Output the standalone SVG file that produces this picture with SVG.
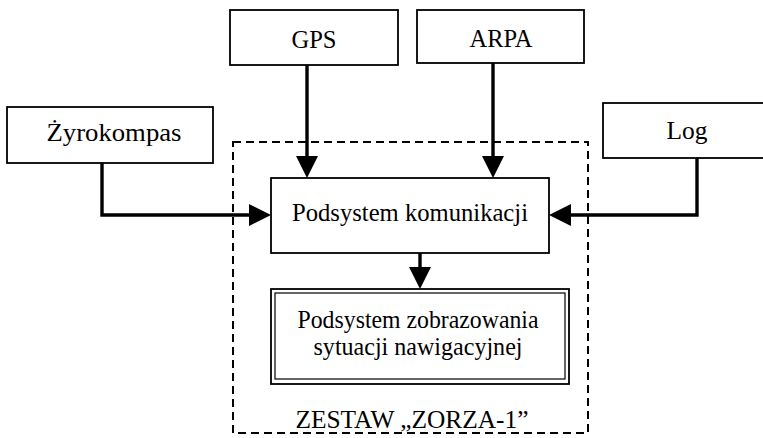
<svg xmlns="http://www.w3.org/2000/svg" width="763" height="438" viewBox="0 0 763 438">
<style>
.box{fill:#fff;stroke:#000;stroke-width:1.8}
.thin{fill:none;stroke:#000;stroke-width:1.2}
.dash{fill:none;stroke:#000;stroke-width:2;stroke-dasharray:8 5}
.con{fill:none;stroke:#000;stroke-width:3.4}
.t{fill:#000;text-anchor:middle}
</style>
<defs>
<marker id="ah" viewBox="0 0 22 22" refX="11" refY="11" markerWidth="22" markerHeight="22" markerUnits="userSpaceOnUse" orient="auto">
<path d="M0,0 L22,11 L0,22 z" fill="#000"/>
</marker>
</defs>
<rect class="dash" x="233" y="142" width="355" height="291"/>
<g font-family="Liberation Serif, Times New Roman, serif" font-size="26">
<g id="gps"><rect class="box" x="230" y="10" width="168" height="55"/><text class="t" x="314" y="48" textLength="45" lengthAdjust="spacingAndGlyphs">GPS</text></g>
<g id="arpa"><rect class="box" x="417" y="10" width="167" height="53"/><text class="t" x="501" y="47" textLength="63" lengthAdjust="spacingAndGlyphs">ARPA</text></g>
<g id="zyrokompas"><rect class="box" x="7" y="107" width="206" height="56"/><text class="t" x="114" y="141" textLength="135" lengthAdjust="spacingAndGlyphs">Żyrokompas</text></g>
<g id="log"><rect class="box" x="603" y="103" width="165" height="55"/><text class="t" x="687" y="139" textLength="41" lengthAdjust="spacingAndGlyphs">Log</text></g>
<g id="komunikacja"><rect class="box" x="271" y="178" width="278" height="75"/><text class="t" x="410" y="221" textLength="236" lengthAdjust="spacingAndGlyphs">Podsystem komunikacji</text></g>
<g id="zobrazowanie"><rect class="box" x="271" y="289" width="298" height="95"/><rect class="thin" x="275" y="293" width="290" height="86"/><text class="t" x="418" y="328" textLength="241" lengthAdjust="spacingAndGlyphs">Podsystem zobrazowania</text><text class="t" x="418" y="355" textLength="209" lengthAdjust="spacingAndGlyphs">sytuacji nawigacyjnej</text></g>
<g id="zestaw"><text class="t" x="412" y="428" textLength="233" lengthAdjust="spacingAndGlyphs">ZESTAW „ZORZA-1”</text></g>
</g>
<g id="connectors">
<path class="con" d="M307,65 V167" marker-end="url(#ah)"/>
<path class="con" d="M493,63 V167" marker-end="url(#ah)"/>
<path class="con" d="M102,163 V215 H260" marker-end="url(#ah)"/>
<path class="con" d="M697,158 V215 H560" marker-end="url(#ah)"/>
<path class="con" d="M420,253 V278" marker-end="url(#ah)"/>
</g>
</svg>
